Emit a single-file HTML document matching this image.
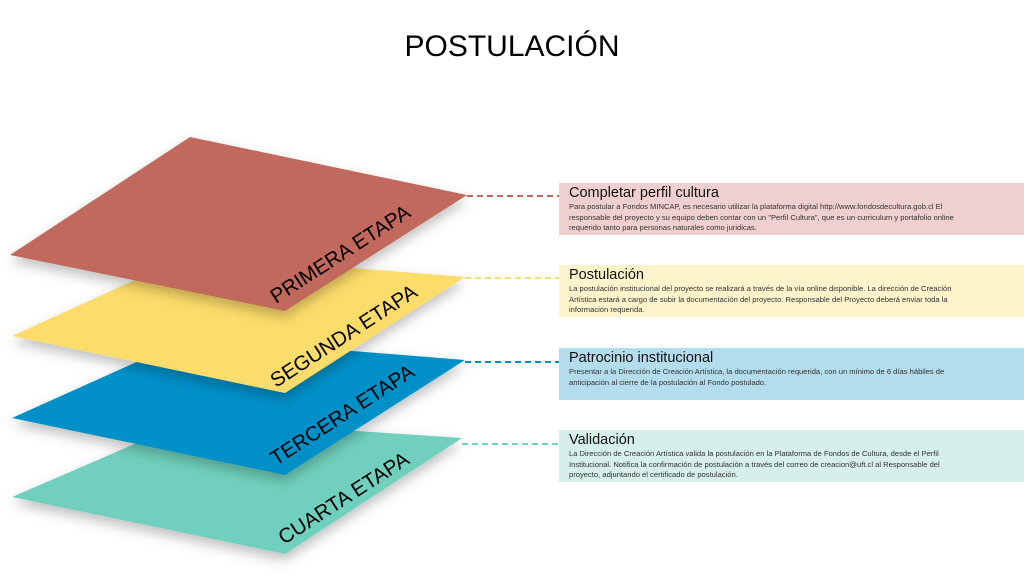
<!DOCTYPE html>
<html><head><meta charset="utf-8"><style>
body{margin:0;width:1024px;height:576px;background:#fff;position:relative;overflow:hidden;font-family:"Liberation Sans",sans-serif}
h1{position:absolute;top:30px;left:0;width:1024px;text-align:center;margin:0;font-size:30px;font-weight:normal;color:#000}
.box{position:absolute;left:559px;width:465px;height:52px;box-sizing:border-box;padding:2px 55px 2px 10px}
.box b{display:block;font-weight:normal;font-size:14.5px;color:#111;line-height:16px}
.box p{margin:1px 0 0;font-size:7.6px;line-height:10.5px;color:#333}
</style></head><body>
<h1>POSTULACIÓN</h1>
<svg width="1024" height="576" style="position:absolute;left:0;top:0">
<defs><filter id="s" x="-10%" y="-10%" width="130%" height="140%"><feDropShadow dx="0" dy="6" stdDeviation="6" flood-opacity="0.25"/></filter></defs>
<polygon points="12,497 190,420 462,438 285,554" fill="#6fd0bd" filter="url(#s)"/>
<polygon points="12,418 190,338 465,360 285,475" fill="#0090c8" filter="url(#s)"/>
<polygon points="12,336 190,255 465,277 285,393" fill="#fcdc6a" filter="url(#s)"/>
<polygon points="10,255 190,137 467,195 285,311" fill="#c1695d" filter="url(#s)"/>
<g font-family="Liberation Sans" font-size="20.5" fill="#000">
<text transform="translate(276,304) rotate(-33)">PRIMERA ETAPA</text>
<text transform="translate(276,388) rotate(-33)">SEGUNDA ETAPA</text>
<text transform="translate(276,466) rotate(-33)">TERCERA ETAPA</text>
<text transform="translate(284,545) rotate(-33)">CUARTA ETAPA</text>
</g>
<g stroke-width="2" stroke-dasharray="6,4">
<line x1="467" y1="196" x2="559" y2="196" stroke="#c1695d"/>
<line x1="465" y1="278" x2="559" y2="278" stroke="#fcdc6a"/>
<line x1="465" y1="362" x2="559" y2="362" stroke="#0090c8"/>
<line x1="462" y1="444" x2="559" y2="444" stroke="#6fd0bd"/>
</g>
</svg>
<div class="box" style="top:183px;background:#efd0cf"><b>Completar perfil cultura</b><p>Para postular a Fondos MINCAP, es necesario utilizar la plataforma digital http://www.fondosdecultura.gob.cl El responsable del proyecto y su equipo deben contar con un "Perfil Cultura", que es un curriculum y portafolio online requerido tanto para personas naturales como juridicas.</p></div>
<div class="box" style="top:265px;background:#fdf4cc"><b>Postulación</b><p>La postulación institucional del proyecto se realizará a través de la vía online disponible. La dirección de Creación Artística estará a cargo de subir la documentación del proyecto. Responsable del Proyecto deberá enviar toda la información requerida.</p></div>
<div class="box" style="top:348px;background:#b3dcec"><b>Patrocinio institucional</b><p>Presentar a la Dirección de Creación Artística, la documentación requerida, con un mínimo de 6 días hábiles de anticipación al cierre de la postulación al Fondo postulado.</p></div>
<div class="box" style="top:430px;background:#d6efea"><b>Validación</b><p>La Dirección de Creación Artística valida la postulación en la Plataforma de Fondos de Cultura, desde el Perfil Institucional. Notifica la confirmación de postulación a través del correo de creacion@uft.cl al Responsable del proyecto, adjuntando el certificado de postulación.</p></div>
</body></html>
